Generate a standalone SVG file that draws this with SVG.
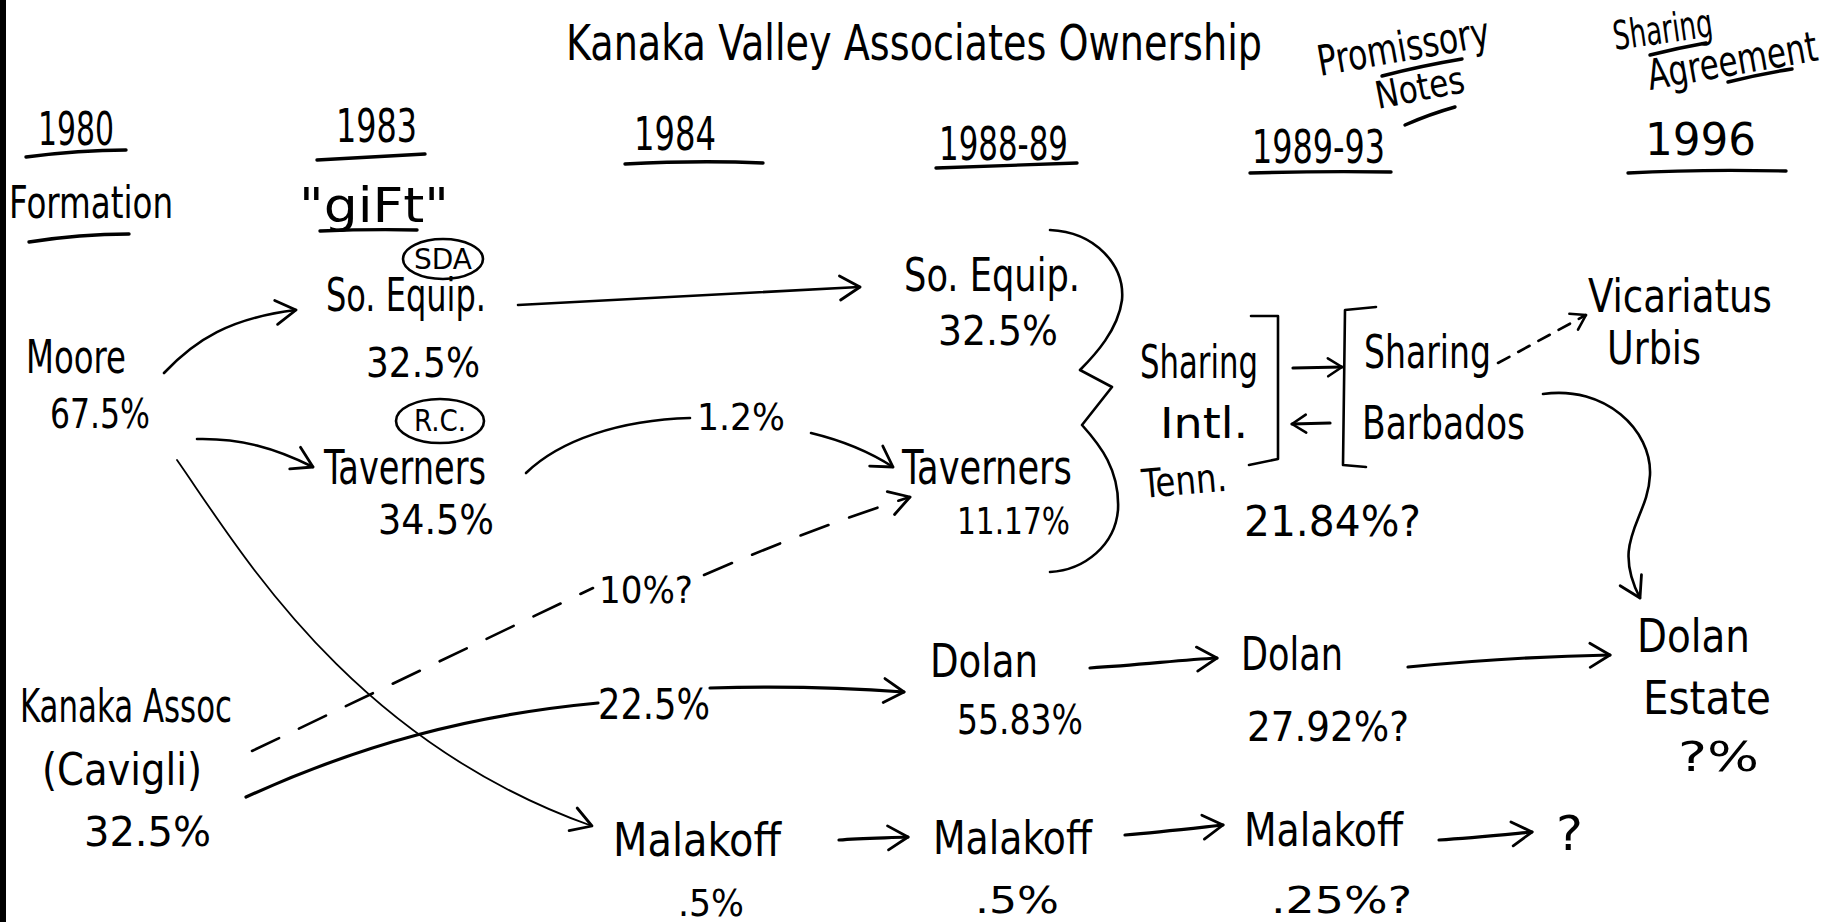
<svg xmlns="http://www.w3.org/2000/svg" width="1839" height="922" viewBox="0 0 1839 922">
<style>
.t{font-family:"Liberation Sans Narrow","DejaVu Sans Condensed","Liberation Sans",sans-serif;fill:#000}
.ln{fill:none;stroke:#000;stroke-width:2.6;stroke-linecap:round;stroke-linejoin:round}
.thin{stroke-width:1.8}
.thick{stroke-width:3.2}
.dash{stroke-dasharray:30 22}
.sdash{stroke-dasharray:13 10}
.ul{fill:none;stroke:#000;stroke-width:3.4;stroke-linecap:round}
</style>
<defs>
<marker id="ah" viewBox="-24 -16 28 32" refX="0" refY="0" markerWidth="28" markerHeight="32" markerUnits="userSpaceOnUse" orient="auto">
<path d="M-20,-12 L0,0 L-20,12" fill="none" stroke="#000" stroke-width="2.8" stroke-linecap="round" stroke-linejoin="round"/>
</marker>
<marker id="ahs" viewBox="-24 -16 28 32" refX="0" refY="0" markerWidth="28" markerHeight="32" markerUnits="userSpaceOnUse" orient="auto">
<path d="M-14,-9 L0,0 L-14,9" fill="none" stroke="#000" stroke-width="2.6" stroke-linecap="round" stroke-linejoin="round"/>
</marker>
</defs>
<rect x="0" y="0" width="1839" height="922" fill="#fff"/>
<rect x="0" y="0" width="6" height="922" fill="#000"/>

<g id="title">
<text class="t" x="566" y="60" font-size="50" textLength="696" lengthAdjust="spacingAndGlyphs">Kanaka Valley Associates Ownership</text>
</g>

<g id="header-promissory">
<text class="t" font-size="42" transform="translate(1320,76) rotate(-10)" textLength="174" lengthAdjust="spacingAndGlyphs">Promissory</text>
<text class="t" font-size="38" transform="translate(1378,109) rotate(-11)" textLength="90" lengthAdjust="spacingAndGlyphs">Notes</text>
<path class="ul" d="M1382,76 Q1420,66 1462,59"/>
<path class="ul" d="M1405,125 Q1430,114 1455,107"/>
</g>
<g id="header-sharing">
<text class="t" font-size="40" transform="translate(1615,50) rotate(-8)" textLength="100" lengthAdjust="spacingAndGlyphs">Sharing</text>
<text class="t" font-size="42" transform="translate(1650,90) rotate(-10)" textLength="172" lengthAdjust="spacingAndGlyphs">Agreement</text>
<path class="ul" d="M1650,55 Q1678,48 1706,43"/>
<path class="ul" d="M1728,82 Q1760,74 1792,69"/>
</g>

<g id="years">
<text class="t" x="38" y="145" font-size="46" textLength="76" lengthAdjust="spacingAndGlyphs">1980</text>
<path class="ul" d="M26,157 Q80,150 126,150"/>
<text class="t" x="336" y="142" font-size="46" textLength="81" lengthAdjust="spacingAndGlyphs">1983</text>
<path class="ul" d="M317,160 Q370,157 425,154"/>
<text class="t" x="634" y="150" font-size="46" textLength="82" lengthAdjust="spacingAndGlyphs">1984</text>
<path class="ul" d="M625,164 Q700,160 763,163"/>
<text class="t" x="939" y="160" font-size="46" textLength="129" lengthAdjust="spacingAndGlyphs">1988-89</text>
<path class="ul" d="M936,168 Q1000,166 1077,163"/>
<text class="t" x="1252" y="163" font-size="46" textLength="133" lengthAdjust="spacingAndGlyphs">1989-93</text>
<path class="ul" d="M1250,173 Q1320,171 1391,172"/>
<text class="t" x="1645" y="155" font-size="44" textLength="111" lengthAdjust="spacingAndGlyphs">1996</text>
<path class="ul" d="M1628,173 Q1700,169 1786,171"/>
<text class="t" x="9" y="218" font-size="44" textLength="164" lengthAdjust="spacingAndGlyphs">Formation</text>
<path class="ul" d="M29,242 Q80,234 129,234"/>
<text class="t" x="299" y="222" font-size="48" textLength="150" lengthAdjust="spacingAndGlyphs">"giFt"</text>
<path class="ul" d="M320,231 Q370,229 417,230"/>
</g>

<g id="moore">
<text class="t" x="26" y="373" font-size="46" textLength="100" lengthAdjust="spacingAndGlyphs">Moore</text>
<text class="t" x="50" y="428" font-size="40" textLength="100" lengthAdjust="spacingAndGlyphs">67.5%</text>
</g>
<g id="soequip-1983">
<ellipse cx="443" cy="259" rx="40" ry="20" fill="none" stroke="#000" stroke-width="2.6"/>
<text class="t" x="443" y="269" font-size="28" text-anchor="middle" textLength="58" lengthAdjust="spacingAndGlyphs">SDA</text>
<text class="t" x="326" y="311" font-size="46" textLength="160" lengthAdjust="spacingAndGlyphs">So. Equip.</text>
<text class="t" x="366" y="377" font-size="40" textLength="114" lengthAdjust="spacingAndGlyphs">32.5%</text>
</g>
<g id="taverners-1983">
<ellipse cx="440" cy="421" rx="44" ry="22" fill="none" stroke="#000" stroke-width="2.6"/>
<text class="t" x="440" y="431" font-size="30" text-anchor="middle" textLength="52" lengthAdjust="spacingAndGlyphs">R.C.</text>
<text class="t" x="324" y="484" font-size="48" textLength="162" lengthAdjust="spacingAndGlyphs">Taverners</text>
<text class="t" x="378" y="534" font-size="40" textLength="116" lengthAdjust="spacingAndGlyphs">34.5%</text>
</g>
<g id="soequip-1988">
<text class="t" x="904" y="291" font-size="46" textLength="176" lengthAdjust="spacingAndGlyphs">So. Equip.</text>
<text class="t" x="938" y="345" font-size="40" textLength="120" lengthAdjust="spacingAndGlyphs">32.5%</text>
</g>
<g id="taverners-1988">
<text class="t" x="902" y="484" font-size="48" textLength="170" lengthAdjust="spacingAndGlyphs">Taverners</text>
<text class="t" x="957" y="534" font-size="38" textLength="113" lengthAdjust="spacingAndGlyphs">11.17%</text>
</g>
<g id="sharing-intl">
<text class="t" x="1140" y="378" font-size="46" textLength="118" lengthAdjust="spacingAndGlyphs">Sharing</text>
<text class="t" x="1160" y="438" font-size="42" textLength="88" lengthAdjust="spacingAndGlyphs">Intl.</text>
<text class="t" font-size="40" transform="translate(1143,498) rotate(-5)" textLength="85" lengthAdjust="spacingAndGlyphs">Tenn.</text>
<text class="t" x="1244" y="536" font-size="42" textLength="177" lengthAdjust="spacingAndGlyphs">21.84%?</text>
</g>
<g id="sharing-barbados">
<text class="t" x="1364" y="368" font-size="46" textLength="127" lengthAdjust="spacingAndGlyphs">Sharing</text>
<text class="t" x="1362" y="439" font-size="46" textLength="163" lengthAdjust="spacingAndGlyphs">Barbados</text>
</g>
<g id="vicariatus">
<text class="t" x="1588" y="312" font-size="46" textLength="184" lengthAdjust="spacingAndGlyphs">Vicariatus</text>
<text class="t" x="1607" y="364" font-size="46" textLength="94" lengthAdjust="spacingAndGlyphs">Urbis</text>
</g>
<g id="kanaka-assoc">
<text class="t" x="20" y="722" font-size="46" textLength="212" lengthAdjust="spacingAndGlyphs">Kanaka Assoc</text>
<text class="t" x="42" y="785" font-size="44" textLength="160" lengthAdjust="spacingAndGlyphs">(Cavigli)</text>
<text class="t" x="84" y="846" font-size="40" textLength="127" lengthAdjust="spacingAndGlyphs">32.5%</text>
</g>
<g id="dolan-1988">
<text class="t" x="930" y="677" font-size="46" textLength="108" lengthAdjust="spacingAndGlyphs">Dolan</text>
<text class="t" x="957" y="734" font-size="40" textLength="126" lengthAdjust="spacingAndGlyphs">55.83%</text>
</g>
<g id="dolan-1989">
<text class="t" x="1241" y="670" font-size="46" textLength="102" lengthAdjust="spacingAndGlyphs">Dolan</text>
<text class="t" x="1247" y="741" font-size="40" textLength="162" lengthAdjust="spacingAndGlyphs">27.92%?</text>
</g>
<g id="dolan-estate">
<text class="t" x="1637" y="652" font-size="46" textLength="113" lengthAdjust="spacingAndGlyphs">Dolan</text>
<text class="t" x="1643" y="714" font-size="46" textLength="128" lengthAdjust="spacingAndGlyphs">Estate</text>
<text class="t" x="1678" y="771" font-size="40" textLength="81" lengthAdjust="spacingAndGlyphs">?%</text>
</g>
<g id="malakoff-1984">
<text class="t" x="613" y="856" font-size="46" textLength="168" lengthAdjust="spacingAndGlyphs">Malakoff</text>
<text class="t" x="678" y="916" font-size="38" textLength="66" lengthAdjust="spacingAndGlyphs">.5%</text>
</g>
<g id="malakoff-1988">
<text class="t" x="933" y="854" font-size="46" textLength="159" lengthAdjust="spacingAndGlyphs">Malakoff</text>
<text class="t" x="975" y="913" font-size="38" textLength="84" lengthAdjust="spacingAndGlyphs">.5%</text>
</g>
<g id="malakoff-1989">
<text class="t" x="1244" y="846" font-size="46" textLength="159" lengthAdjust="spacingAndGlyphs">Malakoff</text>
<text class="t" x="1271" y="913" font-size="38" textLength="141" lengthAdjust="spacingAndGlyphs">.25%?</text>
</g>
<g id="unknown">
<text class="t" x="1556" y="850" font-size="48" textLength="27" lengthAdjust="spacingAndGlyphs">?</text>
</g>

<g id="connectors">
<path class="ln" d="M164,373 C195,340 230,318 296,310" marker-end="url(#ah)"/>
<path class="ln" d="M197,439 C240,438 275,448 313,467" marker-end="url(#ah)"/>
<path class="ln" d="M518,305 C620,300 740,293 860,287" marker-end="url(#ah)"/>
<path class="ln" d="M526,473 C560,440 620,420 690,418"/>
<path class="ln" d="M811,433 C840,440 870,452 893,467" marker-end="url(#ah)"/>
<path class="ln dash" d="M252,751 L593,588"/>
<path class="ln dash" d="M704,575 C780,542 850,516 910,497" marker-end="url(#ah)"/>
<text class="t" x="599" y="603" font-size="38" textLength="94" lengthAdjust="spacingAndGlyphs">10%?</text>
<path class="ln thick" d="M246,797 C360,745 470,715 598,703"/>
<text class="t" x="598" y="719" font-size="42" textLength="112" lengthAdjust="spacingAndGlyphs">22.5%</text>
<path class="ln thick" d="M710,688 C780,686 850,688 904,692" marker-end="url(#ah)"/>
<path class="ln thin" d="M177,460 C240,550 350,740 592,826" marker-end="url(#ah)"/>
<text class="t" x="697" y="430" font-size="38" textLength="88" lengthAdjust="spacingAndGlyphs">1.2%</text>
<path class="ln thick" d="M1090,668 C1140,665 1180,660 1217,658" marker-end="url(#ah)"/>
<path class="ln thick" d="M1408,667 C1480,660 1550,656 1610,655" marker-end="url(#ah)"/>
<path class="ln thick" d="M839,840 C860,838 885,838 908,837" marker-end="url(#ah)"/>
<path class="ln thick" d="M1125,835 C1160,832 1195,828 1223,825" marker-end="url(#ah)"/>
<path class="ln thick" d="M1439,840 C1470,838 1500,835 1532,832" marker-end="url(#ah)"/>
<path class="ln" d="M1050,230 C1095,232 1125,265 1122,300 C1118,330 1095,355 1080,370 L1112,387 L1082,425 C1100,445 1120,470 1118,510 C1115,545 1085,570 1050,572"/>
<path class="ln" d="M1251,316 L1278,316 L1278,459 L1249,465"/>
<path class="ln thick" d="M1293,368 L1342,367" marker-end="url(#ahs)"/>
<path class="ln thick" d="M1330,423 L1292,424" marker-end="url(#ahs)"/>
<path class="ln" d="M1376,307 L1345,310 L1343,465 L1366,467"/>
<path class="ln sdash" d="M1498,363 L1586,315" marker-end="url(#ahs)"/>
<path class="ln" d="M1543,394 C1605,385 1652,430 1650,475 C1648,520 1610,540 1640,598" marker-end="url(#ah)"/>
</g>
</svg>
